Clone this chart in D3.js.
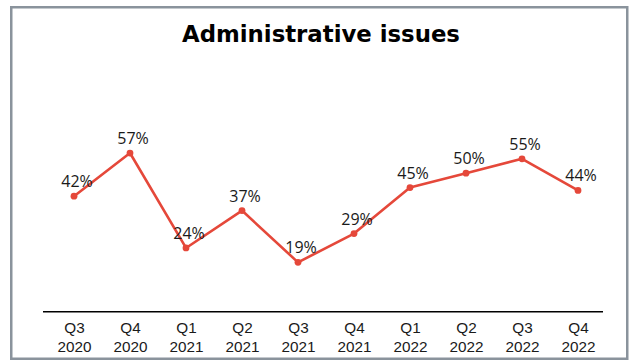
<!DOCTYPE html>
<html>
<head>
<meta charset="utf-8">
<script src="https://cdn.jsdelivr.net/npm/d3@7"></script>
<style>
  html, body { margin: 0; padding: 0; background: #ffffff; }
  svg { display: block; }
</style>
</head>
<body>
<svg id="chart" width="633" height="361"></svg>
<script>
// Quarter labels (two lines each) and share of respondents reporting administrative issues
const quarters = ["Q3", "Q4", "Q1", "Q2", "Q3", "Q4", "Q1", "Q2", "Q3", "Q4"];
const years = ["2020", "2020", "2021", "2021", "2021", "2021", "2022", "2022", "2022", "2022"];
const values = [42, 57, 24, 37, 19, 29, 45, 50, 55, 44];
const chartTitle = "Administrative issues";

const keys = quarters.map((q, i) => q + " " + years[i]);
const data = keys.map((k, i) => ({ key: k, q: quarters[i], year: years[i], value: values[i] }));

const svg = d3.select("#chart");

const lineColor = "#e5483a";
const textColor = "#1a1a1a";

// Frame
svg.append("rect")
  .attr("x", 11.25).attr("y", 7.25)
  .attr("width", 616).attr("height", 351.5)
  .attr("fill", "#ffffff")
  .attr("stroke", "#8a939c")
  .attr("stroke-width", 2.5);

// Title
svg.append("text")
  .attr("x", 321).attr("y", 41.5)
  .attr("text-anchor", "middle")
  .attr("font-family", "'DejaVu Sans', sans-serif")
  .attr("font-weight", "bold")
  .attr("font-size", 22.8)
  .attr("fill", "#000000")
  .text(chartTitle);

// Scales
const x = d3.scalePoint().domain(keys).range([74, 578]);
const y = d3.scaleLinear().domain([0, 60]).range([317, 144.4]);

const axisY = 311.7;

// Bottom axis: plain baseline with two-line tick labels
const xAxis = d3.axisBottom(x).tickSize(0).tickFormat(() => "");
const gAxis = svg.append("g")
  .attr("transform", `translate(0,${axisY})`)
  .call(xAxis);
gAxis.select(".domain")
  .attr("d", `M${x(keys[0]) - 31},0H${x(keys[keys.length - 1]) + 25}`)
  .attr("stroke", "#000000")
  .attr("stroke-width", 1.5);
gAxis.selectAll(".tick text").remove();

const tickFont = "'Liberation Sans', Arial, sans-serif";
gAxis.selectAll(".tick")
  .append("text")
  .attr("class", "tick-q")
  .attr("y", 21.8)
  .attr("fill", textColor)
  .attr("text-anchor", "middle")
  .attr("font-family", tickFont)
  .attr("font-size", 15.3)
  .text((d, i) => quarters[i]);
gAxis.selectAll(".tick")
  .append("text")
  .attr("class", "tick-y")
  .attr("y", 40.3)
  .attr("fill", textColor)
  .attr("text-anchor", "middle")
  .attr("font-family", tickFont)
  .attr("font-size", 15.3)
  .text((d, i) => years[i]);

// Line
const line = d3.line()
  .x(d => x(d.key))
  .y(d => y(d.value));

svg.append("path")
  .datum(data)
  .attr("d", line)
  .attr("fill", "none")
  .attr("stroke", lineColor)
  .attr("stroke-width", 2.6)
  .attr("stroke-linejoin", "round");

// Points
svg.selectAll("circle.pt")
  .data(data)
  .join("circle")
  .attr("class", "pt")
  .attr("cx", d => x(d.key))
  .attr("cy", d => y(d.value))
  .attr("r", 3.4)
  .attr("fill", lineColor);

// Value labels
svg.selectAll("text.val")
  .data(data)
  .join("text")
  .attr("class", "val")
  .attr("x", d => x(d.key) + 3)
  .attr("y", d => y(d.value) - 9)
  .attr("text-anchor", "middle")
  .attr("font-family", "'Open Sans', sans-serif")
  .attr("font-size", 16)
  .attr("fill", textColor)
  .text(d => d.value + "%");
</script>
</body>
</html>
